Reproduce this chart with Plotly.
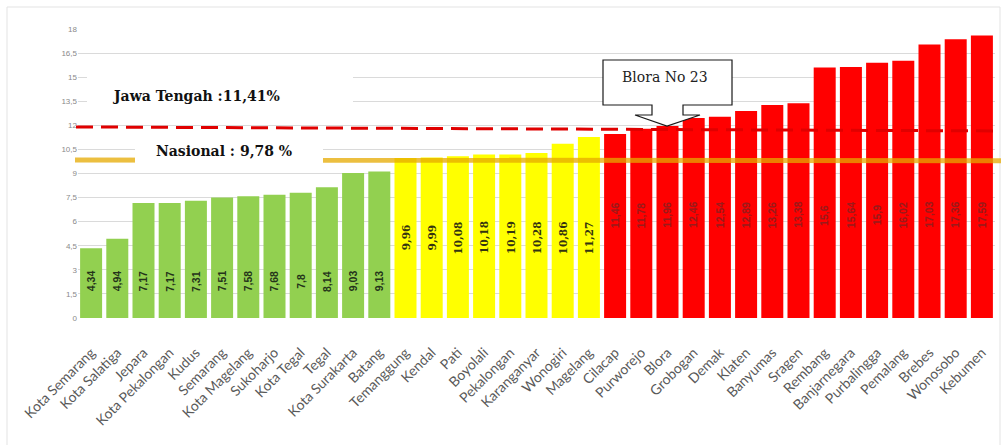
import plotly.graph_objects as go

# ---------------- data ----------------
regions = ["Kota Semarang", "Kota Salatiga", "Jepara", "Kota Pekalongan", "Kudus", "Semarang",
           "Kota Magelang", "Sukoharjo", "Kota Tegal", "Tegal", "Kota Surakarta", "Batang",
           "Temanggung", "Kendal", "Pati", "Boyolali", "Pekalongan", "Karanganyar", "Wonogiri",
           "Magelang", "Cilacap", "Purworejo", "Blora", "Grobogan", "Demak", "Klaten", "Banyumas",
           "Sragen", "Rembang", "Banjarnegara", "Purbalingga", "Pemalang", "Brebes", "Wonosobo",
           "Kebumen"]
poverty = [4.34, 4.94, 7.17, 7.17, 7.31, 7.51, 7.58, 7.68, 7.8, 8.14, 9.03, 9.13,
           9.96, 9.99, 10.08, 10.18, 10.19, 10.28, 10.86, 11.27,
           11.46, 11.78, 11.96, 12.46, 12.54, 12.89, 13.26, 13.38, 15.6, 15.64, 15.9, 16.02,
           17.03, 17.36, 17.59]
nasional = 9.78
jawa_tengah = 11.41
y_ticks = [0, 1.5, 3, 4.5, 6, 7.5, 9, 10.5, 12, 13.5, 15, 16.5, 18]
y_tick_labels = ["0", "1,5", "3", "4,5", "6", "7,5", "9", "10,5", "12", "13,5", "15", "16,5", "18"]
highlight_text = "Blora No 23"

# ---------------- styling ----------------
W, H = 1001, 445
L, R, T, B = 78, 6, 29, 127
PW, PH = W - L - R, H - T - B

def px(x):
    return (x - L) / PW

def py(y):
    return (H - B - y) / PH

GREEN, YELLOW, RED = "#92D050", "#FFFF00", "#FF0000"
colors, label_col, label_y, label_font = [], [], [], []
for v in poverty:
    if v < nasional:
        colors.append(GREEN); label_col.append("#24331a"); label_y.append(2.3); label_font.append("Liberation Sans")
    elif v < jawa_tengah:
        colors.append(YELLOW); label_col.append("#333310"); label_y.append(5.0); label_font.append("DejaVu Serif")
    else:
        colors.append(RED); label_col.append("#9a1a1a"); label_y.append(6.4); label_font.append("Liberation Sans")

def fmt(v):
    return f"{v:g}".replace(".", ",")

fig = go.Figure()
fig.add_trace(go.Bar(
    x=regions, y=poverty, marker=dict(color=colors, line=dict(width=0)),
    hoverinfo="x+y", showlegend=False,
))

annotations = []
for r, v, c, ly, f in zip(regions, poverty, label_col, label_y, label_font):
    annotations.append(dict(x=r, y=ly, xref="x", yref="y", text="<b>" + fmt(v) + "</b>", showarrow=False,
                            textangle=-90, font=dict(size=10.5, color=c, family=f)))

shapes = []
# outer frame
shapes.append(dict(type="rect", xref="paper", yref="paper", x0=px(7), x1=px(1000), y0=py(450), y1=py(7),
                   line=dict(color="#E3E3E3", width=1), fillcolor="rgba(0,0,0,0)", layer="below"))
# national line (gold)
shapes.append(dict(type="line", xref="paper", yref="y", x0=px(75), x1=px(1001), y0=nasional + 0.06, y1=nasional + 0.02,
                   line=dict(color="rgba(230,170,0,0.75)", width=5), layer="above"))
# Jawa Tengah line (red dashed, drawn slightly above as in picture)
shapes.append(dict(type="line", xref="paper", yref="y", x0=px(76), x1=px(997), y0=11.9, y1=11.65,
                   line=dict(color="#E00000", width=3, dash="17px,8px"), layer="above"))
# white boxes for labels
shapes.append(dict(type="rect", xref="paper", yref="paper", x0=px(87), x1=px(353), y0=py(107), y1=py(73),
                   fillcolor="white", line=dict(width=0), layer="above"))
shapes.append(dict(type="rect", xref="paper", yref="paper", x0=px(135), x1=px(323), y0=py(165), y1=py(138),
                   fillcolor="white", line=dict(width=0), layer="above"))
# callout
pts = [(603, 60), (732, 60), (732, 105), (683, 105), (683, 115), (700, 115), (667, 126),
       (635, 115), (652, 115), (652, 105), (603, 105)]
path = "M " + " L ".join(f"{px(a):.5f},{py(b):.5f}" for a, b in pts) + " Z"
shapes.append(dict(type="path", xref="paper", yref="paper", path=path, fillcolor="white",
                   line=dict(color="#1a1a1a", width=1.2), layer="above"))

annotations += [
    dict(x=px(196), y=py(96), xref="paper", yref="paper", xanchor="center", yanchor="middle",
         text="<b>Jawa Tengah :11,41%</b>", showarrow=False,
         font=dict(family="DejaVu Serif", size=14, color="#111111")),
    dict(x=px(224), y=py(151), xref="paper", yref="paper", xanchor="center", yanchor="middle",
         text="<b>Nasional : 9,78 %</b>", showarrow=False,
         font=dict(family="DejaVu Serif", size=14, color="#111111")),
    dict(x=px(665), y=py(77), xref="paper", yref="paper", xanchor="center", yanchor="middle",
         text=highlight_text, showarrow=False,
         font=dict(family="DejaVu Serif", size=14, color="#222222")),
]

fig.update_layout(
    width=W, height=H, margin=dict(l=L, r=R, t=T, b=B),
    paper_bgcolor="white", plot_bgcolor="white", bargap=0.16,
    shapes=shapes, annotations=annotations,
    font=dict(family="Lato"),
)
fig.update_xaxes(tickangle=-45, tickfont=dict(family="Lato", size=14, color="#595959"),
                 ticks="outside", ticklen=20, tickcolor="rgba(0,0,0,0)", showline=False,
                 showgrid=False, fixedrange=True)
fig.update_yaxes(range=[0, 18], tickvals=y_ticks, ticktext=y_tick_labels,
                 tickfont=dict(family="Liberation Sans", size=8, color="#8a8a8a"),
                 showgrid=True, gridcolor="#DADADA", gridwidth=1, zeroline=False, showline=False,
                 ticks="", fixedrange=True)

fig.write_html("out.html")
